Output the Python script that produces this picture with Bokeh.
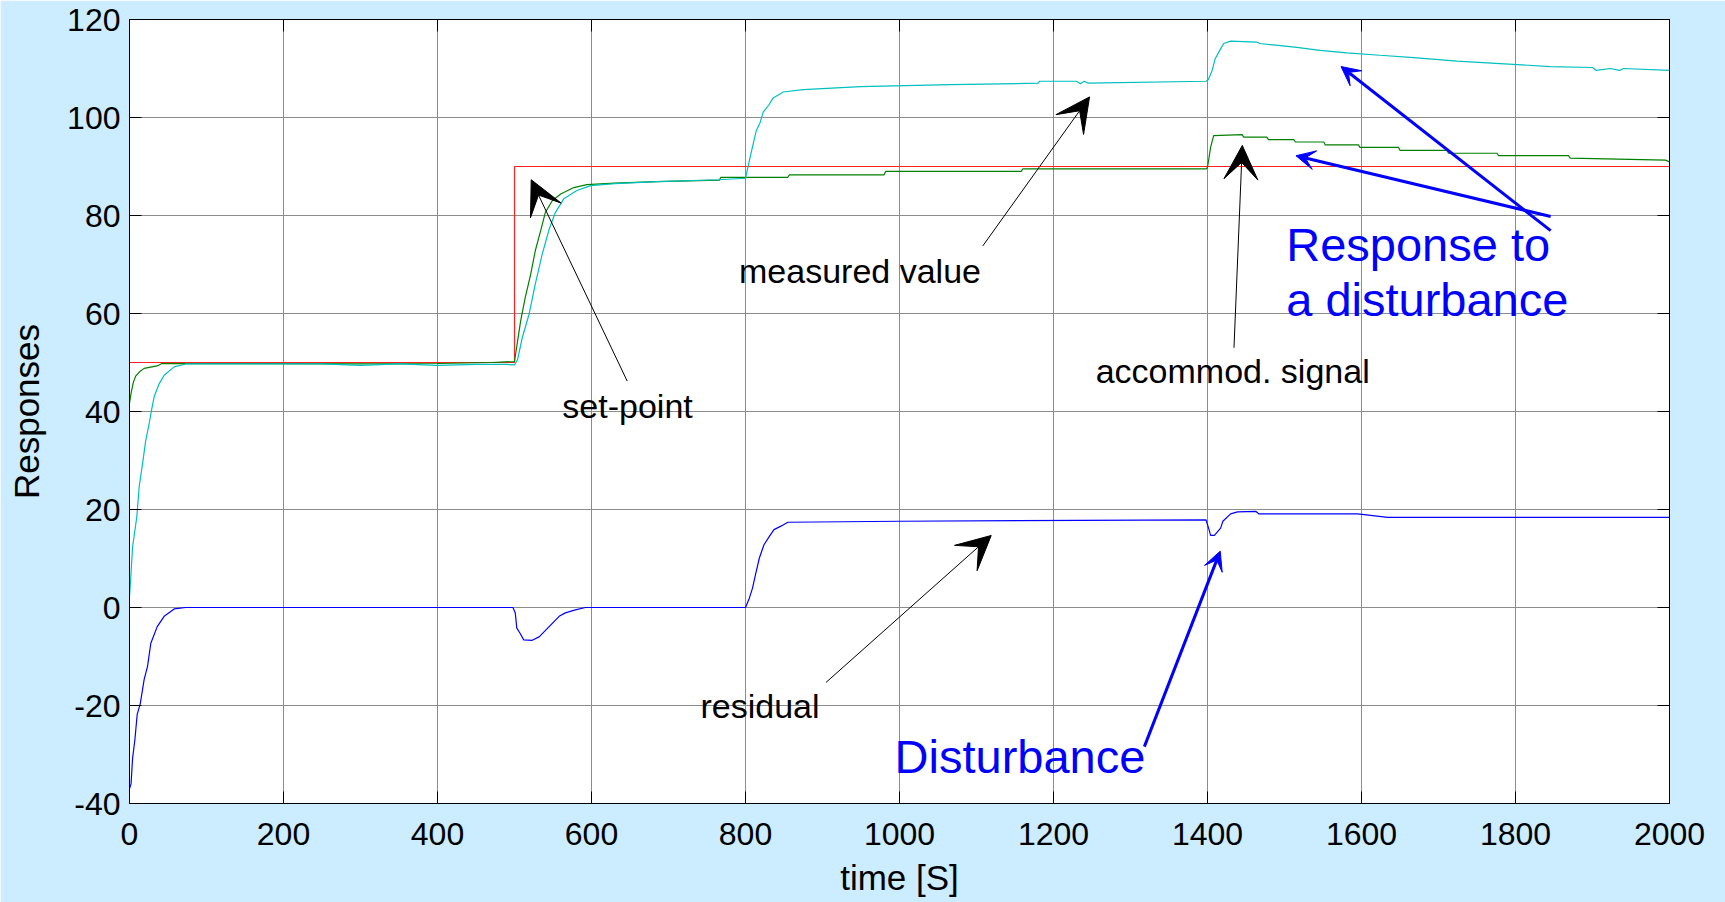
from bokeh.plotting import figure
from bokeh.models import LinearAxis, Range1d, FixedTicker, Arrow, VeeHead, Label, PrintfTickFormatter
from bokeh.embed import file_html
from bokeh.resources import INLINE

# ---------------- data ----------------
x_ticks = [0, 200, 400, 600, 800, 1000, 1200, 1400, 1600, 1800, 2000]
y_ticks = [-40, -20, 0, 20, 40, 60, 80, 100, 120]

setpoint_t = [0, 500, 500, 2000]
setpoint_v = [50, 50, 90, 90]

accommod_t = [0, 2, 5, 8, 13, 19, 36, 42, 300, 400, 470, 500, 508, 514, 521, 527, 534, 540,
              549, 560, 577, 594, 630, 685, 766, 768, 855, 857, 980, 982, 1158, 1160, 1398,
              1400, 1404, 1408, 1445, 1447, 1477, 1479, 1512, 1514, 1551, 1553, 1596, 1598,
              1648, 1650, 1711, 1713, 1776, 1778, 1869, 1871, 1995, 2000]
accommod_v = [41.7, 43.7, 46.0, 47.2, 48.1, 48.8, 49.3, 49.8, 49.7, 49.8, 50.0, 50.2, 58.5,
              63.3, 68.0, 72.8, 76.9, 80.6, 83.0, 84.4, 85.7, 86.3, 86.6, 86.9, 87.2, 87.8,
              87.8, 88.3, 88.3, 89.0, 89.0, 89.5, 89.5, 89.8, 93.9, 96.3, 96.5, 96.0, 96.0,
              95.5, 95.5, 95.0, 95.0, 94.4, 94.4, 93.9, 93.9, 93.3, 93.3, 92.7, 92.7, 92.2,
              92.2, 91.7, 91.3, 90.9]

measured_t = [0, 2, 4, 9.5, 12.6, 17, 21, 25.6, 28.6, 32, 38.6, 45, 58, 73, 250, 300, 350,
              400, 450, 490, 500, 504, 510, 519, 527, 536, 545, 553, 564, 581, 599, 630, 685,
              765, 800, 806, 810, 814, 819, 823, 830, 836, 849, 875, 949, 1066, 1180, 1182,
              1230, 1235, 1240, 1245, 1398, 1401, 1406, 1410, 1417, 1421, 1430, 1464, 1468,
              1492, 1516, 1546, 1581, 1624, 1668, 1724, 1780, 1845, 1900, 1905, 1923, 1935,
              1940, 2000]
measured_v = [2.2, 7.0, 12.4, 18.5, 24.7, 29.4, 34.0, 37.6, 40.3, 43.0, 45.7, 47.4, 49.1,
              49.7, 49.7, 49.4, 49.7, 49.4, 49.6, 49.6, 49.5, 50.6, 55.0, 59.9, 66.0, 72.1,
              77.2, 80.6, 83.4, 85.1, 86.1, 86.5, 86.9, 87.3, 87.6, 91.9, 94.6, 97.3, 99.0,
              101.1, 102.5, 104.0, 105.2, 105.7, 106.3, 106.7, 107.0, 107.4, 107.4, 106.9,
              107.4, 107.0, 107.4, 107.7, 109.6, 112.0, 114.0, 115.1, 115.6, 115.4, 115.1,
              114.7, 114.3, 113.7, 113.2, 112.7, 112.2, 111.5, 111.0, 110.4, 110.2, 109.6,
              110.0, 109.6, 110.0, 109.6]

residual_t = [0, 2, 4, 7, 10, 14, 19, 23.4, 27.7, 36, 45, 58, 73, 498, 501, 503, 507, 512,
              523, 532, 558, 566, 579, 592, 800, 805, 809, 813, 818, 824, 831, 837, 846, 855,
              1000, 1398, 1402, 1404, 1409, 1417, 1420, 1430, 1439, 1463, 1467, 1595, 1634,
              2000]
residual_v = [-37.0, -36.0, -30.8, -27.0, -21.8, -19.6, -14.7, -12.0, -7.3, -3.9, -1.8, -0.3,
              0.0, 0.0, -1.1, -4.2, -5.2, -6.6, -6.7, -6.0, -1.8, -1.1, -0.5, 0.0, 0.0, 1.9,
              3.9, 6.7, 10.1, 12.8, 14.5, 15.9, 16.6, 17.4, 17.6, 17.9, 15.9, 14.7, 14.7, 16.2,
              17.6, 19.1, 19.5, 19.6, 19.1, 19.1, 18.4, 18.4]

# annotation texts: (text, t, value)
labels_black = [("measured value", 948.7, 68.7), ("set-point", 646.8, 41.1),
                ("accommod. signal", 1432.7, 48.3), ("residual", 818.8, -20.0)]
labels_blue = [("Response to", 1502.2, 74.0), ("a disturbance", 1502.2, 62.8)]
label_dist = ("Disturbance", 1156.5, -30.5)

# arrows: (t_start, v_start, t_end, v_end)
arrows_black = [(646.4, 46.2, 521.7, 87.3), (1108.2, 73.8, 1246.8, 104.2),
                (1434.4, 53.0, 1445.2, 94.3), (904.5, -15.3, 1119.1, 14.7)]
arrows_blue = [(1318.0, -28.4, 1416.5, 11.5), (1845.7, 76.9, 1573.4, 110.4),
               (1845.7, 79.8, 1514.9, 92.2)]

# ---------------- figure ----------------
BG = "#CCECFF"
FONT = "Liberation Sans"

p = figure(width=1725, height=902, x_range=Range1d(0, 2000), y_range=Range1d(-40, 120),
           output_backend="svg", toolbar_location=None,
           min_border_left=129, min_border_right=56, min_border_top=19, min_border_bottom=99)
p.background_fill_color = "white"
p.border_fill_color = BG
p.outline_line_color = "black"
p.outline_line_width = 1

for ax in (p.xaxis[0], p.yaxis[0]):
    ax.axis_line_color = "black"
    ax.major_tick_line_color = "black"
    ax.major_tick_in = 12
    ax.major_tick_out = 0
    ax.minor_tick_line_color = None
    ax.major_label_text_font = FONT
    ax.major_label_text_font_size = "32px"
    ax.major_label_text_color = "black"
    ax.axis_label_text_font = FONT
    ax.axis_label_text_font_size = "35px"
    ax.axis_label_text_font_style = "normal"
    ax.axis_label_text_color = "black"

p.xaxis.ticker = FixedTicker(ticks=x_ticks)
p.yaxis.ticker = FixedTicker(ticks=y_ticks)
p.xaxis.formatter = PrintfTickFormatter(format="%d")
p.yaxis.formatter = PrintfTickFormatter(format="%d")
p.xaxis.axis_label = "time [S]"
p.yaxis.axis_label = "Responses"
p.xaxis.major_label_standoff = 19
p.xaxis.axis_label_standoff = 10
p.yaxis.major_label_standoff = 9
p.yaxis.axis_label_standoff = 18

for side, tk in (("above", x_ticks), ("right", y_ticks)):
    a = LinearAxis(ticker=FixedTicker(ticks=tk))
    a.major_label_text_color = None
    a.major_label_text_font_size = "0px"
    a.major_tick_in = 12
    a.major_tick_out = 0
    a.minor_tick_line_color = None
    a.axis_line_color = "black"
    a.major_tick_line_color = "black"
    p.add_layout(a, side)

p.xgrid.ticker = FixedTicker(ticks=x_ticks)
p.ygrid.ticker = FixedTicker(ticks=y_ticks)
for g in (p.xgrid[0], p.ygrid[0]):
    g.grid_line_color = "#8c8c8c"
    g.grid_line_width = 1

p.line(setpoint_t, setpoint_v, line_color="#FF2020", line_width=1.2)
p.line(accommod_t, accommod_v, line_color="#008000", line_width=1.2)
p.line(measured_t, measured_v, line_color="#00BFBF", line_width=1.2)
p.line(residual_t, residual_v, line_color="#0000FF", line_width=1.2)

for (xs, ys, xe, ye) in arrows_black:
    p.add_layout(Arrow(end=VeeHead(size=34, fill_color="black", line_color="black"),
                       x_start=xs, y_start=ys, x_end=xe, y_end=ye,
                       line_color="black", line_width=1))
for (xs, ys, xe, ye) in arrows_blue:
    p.add_layout(Arrow(end=VeeHead(size=19, fill_color="#0000FF", line_color="#0000FF"),
                       x_start=xs, y_start=ys, x_end=xe, y_end=ye,
                       line_color="#0000FF", line_width=3))

for (txt, tx, ty) in labels_black:
    p.add_layout(Label(x=tx, y=ty, text=txt, text_align="center", text_baseline="middle",
                       text_font=FONT, text_font_size="34px", text_color="black"))
for (txt, tx, ty) in labels_blue:
    p.add_layout(Label(x=tx, y=ty, text=txt, text_align="left", text_baseline="middle",
                       text_font=FONT, text_font_size="47px", text_color="#0000FF"))
p.add_layout(Label(x=label_dist[1], y=label_dist[2], text=label_dist[0], text_align="center",
                   text_baseline="middle", text_font=FONT, text_font_size="47px",
                   text_color="#0000FF"))

open("out.html", "w").write(file_html(p, INLINE))
